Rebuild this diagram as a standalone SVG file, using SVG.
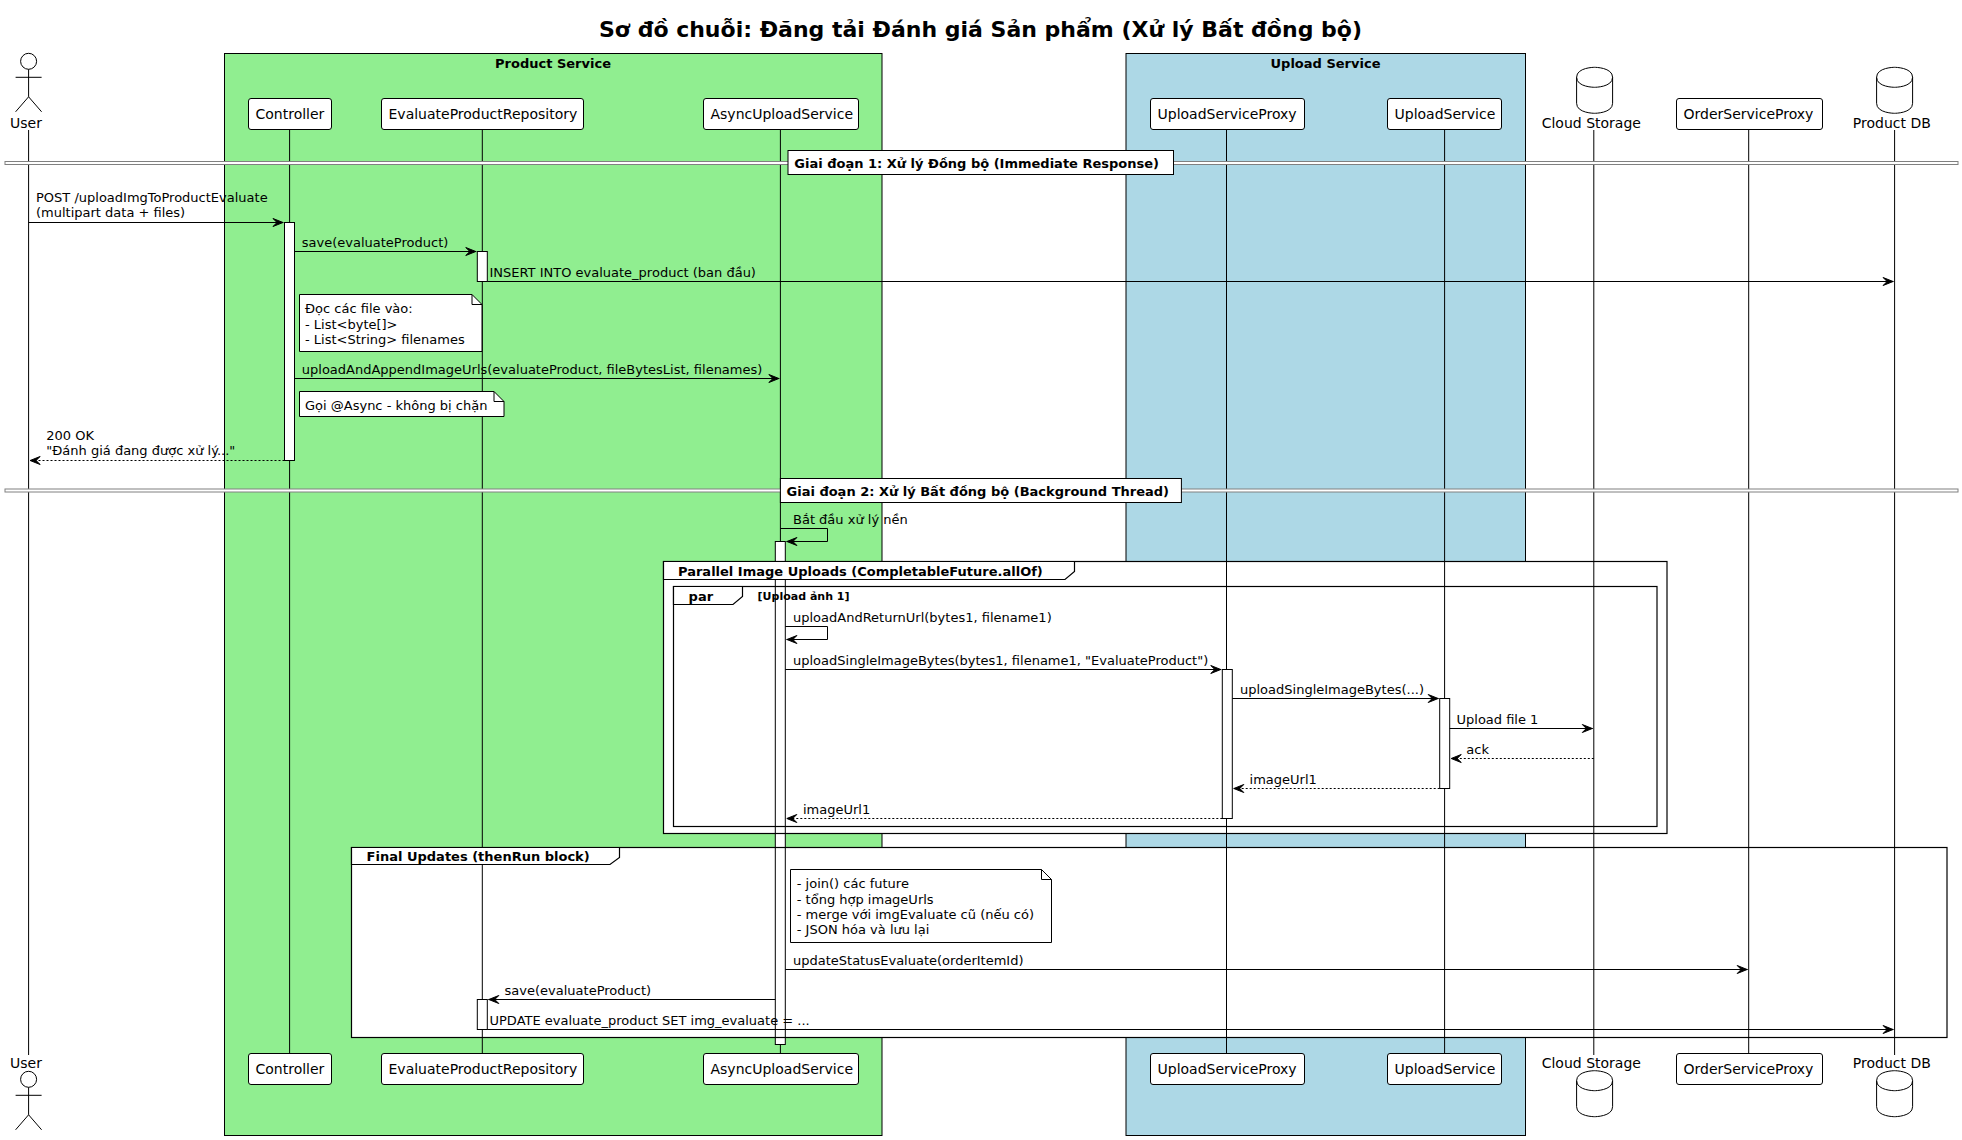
<svg xmlns="http://www.w3.org/2000/svg" width="1962" height="1140" viewBox="0 0 1962 1140">
<style>
text{font-family:"DejaVu Sans",sans-serif;fill:#000}
.m{font-size:13px}
.p{font-size:14px}
.b{font-size:13px;font-weight:bold}
.g{font-size:11px;font-weight:bold}
.t{font-size:22px;font-weight:bold}
.box{stroke:#000;stroke-width:1}
.pr{fill:#fff;stroke:#000;stroke-width:1}
.ll{stroke:#000;stroke-width:1}
.act{fill:#fff;stroke:#000;stroke-width:1}
.ff{fill:#fff;stroke:none}
.fo{fill:none;stroke:#000;stroke-width:1.2}
.tab{fill:#fff;stroke:#000;stroke-width:1.2}
.dl{fill:#fff;stroke:#808080;stroke-width:1}
.dlb{fill:#fff;stroke:#000;stroke-width:1}
.note{fill:#fff;stroke:#000;stroke-width:1}
.fold{fill:none;stroke:#000;stroke-width:1}
.a{fill:none;stroke:#000;stroke-width:1;marker-end:url(#arrow)}
.d{stroke-dasharray:2,2}
.sym{fill:#fff;stroke:#000;stroke-width:1}
.st{fill:none;stroke:#000;stroke-width:1}
</style>
<defs>
<marker id="arrow" markerUnits="userSpaceOnUse" markerWidth="14" markerHeight="12" refX="10.5" refY="4" orient="auto" overflow="visible"><path d="M0,0 L10,4 L0,8 L4,4 Z" fill="#000" stroke="#000" stroke-width="1"/></marker>
<g id="actor"><circle cx="28.6" cy="8" r="8" class="sym"/><path d="M28.6,16 V43.5 M15.6,24 H41.6 M15.6,58.5 L28.6,43.5 L41.6,58.5" class="st"/></g>
<path id="db" d="M0,10 C0,0 18,0 18,0 C18,0 36,0 36,10 V36 C36,46 18,46 18,46 C18,46 0,46 0,36 Z M0,10 C0,20 18,20 18,20 C18,20 36,20 36,10" class="sym"/>
</defs>
<rect width="1962" height="1140" fill="#fff"/>
<text id="title" class="t" x="980.5" y="36.5" text-anchor="middle">Sơ đồ chuỗi: Đăng tải Đánh giá Sản phẩm (Xử lý Bất đồng bộ)</text>

<g id="box-product"><rect class="box" x="224.5" y="53.5" width="657.5" height="1082" fill="#90EE90"/><text class="b" x="553" y="67.5" text-anchor="middle">Product Service</text></g>
<g id="box-upload"><rect class="box" x="1126" y="53.5" width="399.5" height="1082" fill="#ADD8E6"/><text class="b" x="1325.5" y="67.5" text-anchor="middle">Upload Service</text></g>

<g id="frame-fills">
<rect class="ff" x="663.5" y="561.5" width="1003.5" height="272"/>
<rect class="ff" x="351.5" y="847.5" width="1595.5" height="190"/>
</g>

<g id="lifelines">
<line class="ll" x1="28.6" y1="130" x2="28.6" y2="1055"/>
<line class="ll" x1="289.6" y1="129" x2="289.6" y2="1053"/>
<line class="ll" x1="482.3" y1="129" x2="482.3" y2="1053"/>
<line class="ll" x1="780.4" y1="129" x2="780.4" y2="1053"/>
<line class="ll" x1="1226.5" y1="129" x2="1226.5" y2="1053"/>
<line class="ll" x1="1444.6" y1="129" x2="1444.6" y2="1053"/>
<line class="ll" x1="1593.8" y1="130" x2="1593.8" y2="1055"/>
<line class="ll" x1="1748.7" y1="129" x2="1748.7" y2="1053"/>
<line class="ll" x1="1894.6" y1="130" x2="1894.6" y2="1055"/>
</g>

<g id="activations">
<rect class="act" x="284.5" y="222.5" width="10" height="238"/>
<rect class="act" x="477.3" y="251.5" width="10" height="30"/>
<rect class="act" x="775.3" y="541.5" width="10" height="503"/>
<rect class="act" x="1222.3" y="669.5" width="10" height="149"/>
<rect class="act" x="1439.7" y="698.5" width="10" height="90"/>
<rect class="act" x="477.3" y="999.5" width="10" height="30"/>
</g>

<g id="frames">
<g id="frame-parallel"><rect class="fo" x="663.5" y="561.5" width="1003.5" height="272"/><path class="tab" d="M663.5,561.5 H1074.5 V571.5 L1065,579.5 H663.5 Z"/><text class="b" x="678" y="575.5">Parallel Image Uploads (CompletableFuture.allOf)</text></g>
<g id="frame-par"><rect class="fo" x="673.5" y="586.5" width="983.5" height="240"/><path class="tab" d="M673.5,586.5 H742.5 V596.5 L733,604.5 H673.5 Z"/><text class="b" x="688.6" y="600.5">par</text><text class="g" x="757.6" y="599.5">[Upload ảnh 1]</text></g>
<g id="frame-final"><rect class="fo" x="351.5" y="847.5" width="1595.5" height="190"/><path class="tab" d="M351.5,847.5 H619.5 V857.5 L610,864.5 H351.5 Z"/><text class="b" x="366.6" y="861">Final Updates (thenRun block)</text></g>
</g>

<g id="dividers">
<rect class="dl" x="5" y="161.5" width="1953" height="3"/>
<rect class="dl" x="5" y="489" width="1953" height="3"/>
<g id="divider-1"><rect class="dlb" x="788" y="150.5" width="385.5" height="24"/><text class="b" x="794.3" y="167.5">Giai đoạn 1: Xử lý Đồng bộ (Immediate Response)</text></g>
<g id="divider-2"><rect class="dlb" x="780.4" y="478.5" width="401" height="24"/><text class="b" x="786.5" y="495.5">Giai đoạn 2: Xử lý Bất đồng bộ (Background Thread)</text></g>
</g>

<g id="connectors">
<line class="a" x1="28.6" y1="222.5" x2="283.5" y2="222.5"/>
<line class="a" x1="294.5" y1="251.5" x2="476.3" y2="251.5"/>
<line class="a" x1="487.3" y1="281.5" x2="1893.6" y2="281.5"/>
<line class="a" x1="294.5" y1="378.5" x2="779.4" y2="378.5"/>
<line class="a d" x1="284.5" y1="460.5" x2="29.6" y2="460.5"/>
<path class="a" d="M780.4,528.5 H827.5 V541.5 H786.4"/>
<path class="a" d="M785.3,626.5 H827.5 V639.5 H786.4"/>
<line class="a" x1="785.3" y1="669.5" x2="1221.3" y2="669.5"/>
<line class="a" x1="1232.3" y1="698.5" x2="1438.7" y2="698.5"/>
<line class="a" x1="1449.7" y1="728.5" x2="1592.8" y2="728.5"/>
<line class="a d" x1="1593.8" y1="758.5" x2="1450.7" y2="758.5"/>
<line class="a d" x1="1439.7" y1="788.5" x2="1233.3" y2="788.5"/>
<line class="a d" x1="1222.3" y1="818.5" x2="786.3" y2="818.5"/>
<line class="a" x1="785.3" y1="969.5" x2="1747.7" y2="969.5"/>
<line class="a" x1="775.3" y1="999.5" x2="488.3" y2="999.5"/>
<line class="a" x1="487.3" y1="1029.5" x2="1893.6" y2="1029.5"/>
</g>

<g id="labels">
<text class="m" x="36" y="201.5">POST /uploadImgToProductEvaluate</text>
<text class="m" x="36" y="216.5">(multipart data + files)</text>
<text class="m" x="301.8" y="246.5">save(evaluateProduct)</text>
<text class="m" x="489.5" y="276.5">INSERT INTO evaluate_product (ban đầu)</text>
<text class="m" x="301.8" y="373.5">uploadAndAppendImageUrls(evaluateProduct, fileBytesList, filenames)</text>
<text class="m" x="46.3" y="439.5">200 OK</text>
<text class="m" x="46.3" y="455">"Đánh giá đang được xử lý..."</text>
<text class="m" x="793" y="523.5">Bắt đầu xử lý nền</text>
<text class="m" x="793" y="621.5">uploadAndReturnUrl(bytes1, filename1)</text>
<text class="m" x="793" y="664.5">uploadSingleImageBytes(bytes1, filename1, "EvaluateProduct")</text>
<text class="m" x="1240" y="693.5">uploadSingleImageBytes(...)</text>
<text class="m" x="1456.5" y="723.5">Upload file 1</text>
<text class="m" x="1466.3" y="753.5">ack</text>
<text class="m" x="1249.6" y="783.5">imageUrl1</text>
<text class="m" x="803" y="813.5">imageUrl1</text>
<text class="m" x="793" y="964.5">updateStatusEvaluate(orderItemId)</text>
<text class="m" x="504.6" y="994.5">save(evaluateProduct)</text>
<text class="m" x="489.5" y="1024.5">UPDATE evaluate_product SET img_evaluate = ...</text>
</g>

<g id="notes">
<g id="note-read"><path class="note" d="M299.5,294.5 H472 L482,304.5 V351.5 H299.5 Z"/><path class="fold" d="M472,294.5 V304.5 H482"/><text class="m" x="305" y="313">Đọc các file vào:</text><text class="m" x="305" y="328.5">- List&lt;byte[]&gt;</text><text class="m" x="305" y="343.5">- List&lt;String&gt; filenames</text></g>
<g id="note-async"><path class="note" d="M299.5,391.5 H494 L504,401.5 V416.5 H299.5 Z"/><path class="fold" d="M494,391.5 V401.5 H504"/><text class="m" x="305" y="409.5">Gọi @Async - không bị chặn</text></g>
<g id="note-final"><path class="note" d="M790.5,869.5 H1041.5 L1051.5,879.5 V942.5 H790.5 Z"/><path class="fold" d="M1041.5,869.5 V879.5 H1051.5"/><text class="m" x="796.8" y="888">- join() các future</text><text class="m" x="796.8" y="903.5">- tổng hợp imageUrls</text><text class="m" x="796.8" y="919">- merge với imgEvaluate cũ (nếu có)</text><text class="m" x="796.8" y="934">- JSON hóa và lưu lại</text></g>
</g>

<g id="user-top"><use href="#actor" x="0" y="53.3"/><text class="p" x="10" y="128">User</text></g>
<g id="controller-top"><rect class="pr" x="248.5" y="98.5" width="83" height="31" rx="2.5"/><text class="p" x="255.5" y="119">Controller</text></g>
<g id="repo-top"><rect class="pr" x="381.5" y="98.5" width="202" height="31" rx="2.5"/><text class="p" x="388.5" y="119">EvaluateProductRepository</text></g>
<g id="async-top"><rect class="pr" x="703.5" y="98.5" width="155" height="31" rx="2.5"/><text class="p" x="710.5" y="119">AsyncUploadService</text></g>
<g id="proxy-top"><rect class="pr" x="1150.5" y="98.5" width="154" height="31" rx="2.5"/><text class="p" x="1157.5" y="119">UploadServiceProxy</text></g>
<g id="upload-top"><rect class="pr" x="1387.5" y="98.5" width="114" height="31" rx="2.5"/><text class="p" x="1394.5" y="119">UploadService</text></g>
<g id="cloud-top"><use href="#db" x="1576.6" y="67.3"/><text class="p" x="1541.7" y="128">Cloud Storage</text></g>
<g id="order-top"><rect class="pr" x="1676.5" y="98.5" width="146" height="31" rx="2.5"/><text class="p" x="1683.5" y="119">OrderServiceProxy</text></g>
<g id="db-top"><use href="#db" x="1876.6" y="67.3"/><text class="p" x="1852.8" y="128">Product DB</text></g>

<g id="user-bottom"><use href="#actor" x="0" y="1071.3"/><text class="p" x="10" y="1068">User</text></g>
<g id="controller-bottom"><rect class="pr" x="248.5" y="1053.5" width="83" height="31" rx="2.5"/><text class="p" x="255.5" y="1074">Controller</text></g>
<g id="repo-bottom"><rect class="pr" x="381.5" y="1053.5" width="202" height="31" rx="2.5"/><text class="p" x="388.5" y="1074">EvaluateProductRepository</text></g>
<g id="async-bottom"><rect class="pr" x="703.5" y="1053.5" width="155" height="31" rx="2.5"/><text class="p" x="710.5" y="1074">AsyncUploadService</text></g>
<g id="proxy-bottom"><rect class="pr" x="1150.5" y="1053.5" width="154" height="31" rx="2.5"/><text class="p" x="1157.5" y="1074">UploadServiceProxy</text></g>
<g id="upload-bottom"><rect class="pr" x="1387.5" y="1053.5" width="114" height="31" rx="2.5"/><text class="p" x="1394.5" y="1074">UploadService</text></g>
<g id="cloud-bottom"><use href="#db" x="1576.6" y="1070.7"/><text class="p" x="1541.7" y="1068">Cloud Storage</text></g>
<g id="order-bottom"><rect class="pr" x="1676.5" y="1053.5" width="146" height="31" rx="2.5"/><text class="p" x="1683.5" y="1074">OrderServiceProxy</text></g>
<g id="db-bottom"><use href="#db" x="1876.6" y="1070.7"/><text class="p" x="1852.8" y="1068">Product DB</text></g>
</svg>
